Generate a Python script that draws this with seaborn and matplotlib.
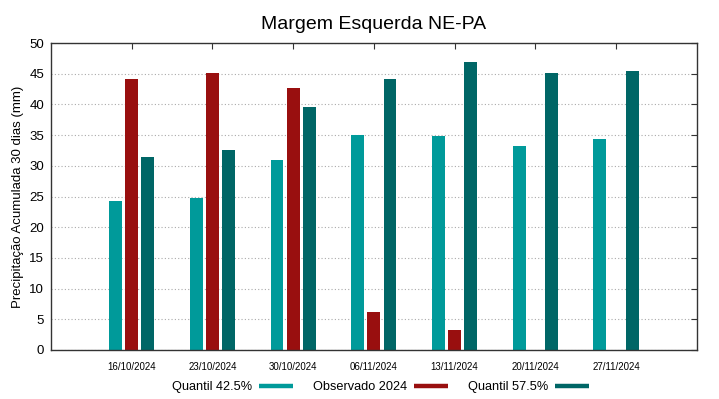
import pandas as pd
import numpy as np
import matplotlib
matplotlib.use('Agg')
import matplotlib.pyplot as plt
from matplotlib.lines import Line2D
import seaborn as sns

# dates and series
datas = ['16/10/2024', '23/10/2024', '30/10/2024', '06/11/2024',
         '13/11/2024', '20/11/2024', '27/11/2024']
quantil_425 = [24.2, 24.8, 30.9, 35.1, 34.9, 33.2, 34.4]
observado_2024 = [44.2, 45.2, 42.7, 6.1, 3.3, np.nan, np.nan]
quantil_575 = [31.4, 32.5, 39.6, 44.2, 47.0, 45.1, 45.5]

series_names = ['Quantil 42.5%', 'Observado 2024', 'Quantil 57.5%']
cores = ['#009a9a', '#990f0f', '#006666']

# long format for seaborn
df = pd.DataFrame({
    'data': datas * 3,
    'serie': [s for s in series_names for _ in datas],
    'valor': quantil_425 + observado_2024 + quantil_575,
})

sns.set_style('white')
plt.rcParams['font.family'] = ['Liberation Sans', 'DejaVu Sans']
plt.rcParams['text.color'] = 'black'
plt.rcParams['axes.labelcolor'] = 'black'
plt.rcParams['xtick.color'] = 'black'
plt.rcParams['ytick.color'] = 'black'

fig = plt.figure(figsize=(7.19, 3.99), dpi=100)
ax = fig.add_axes([0.071, 0.123, 0.898, 0.769])

sns.barplot(data=df, x='data', y='valor', hue='serie', order=datas,
            hue_order=series_names, palette=cores, width=0.6, gap=0.2,
            saturation=1, linewidth=0, legend=False, ax=ax)

ax.set_xlim(-1, 7)
ax.set_ylim(0, 50)
ax.set_yticks(range(0, 51, 5))
ax.yaxis.grid(True, linestyle=(0, (1, 2)), color='#aaaaaa', linewidth=0.8)
ax.set_axisbelow(True)

for s in ax.spines.values():
    s.set_color('#333333')
    s.set_linewidth(1)

ax.tick_params(axis='both', direction='in', top=True, right=True,
               length=4, color='#333333')
ax.tick_params(axis='x', labelsize=7, pad=9)
ax.tick_params(axis='y', labelsize=9.5, pad=5)

ax.set_xlabel('')
ax.set_ylabel('Precipitação Acumulada 30 dias (mm)', fontsize=9.5)
ax.set_title('Margem Esquerda NE-PA', fontsize=14, pad=10, color='black')

# legend below the axes, text first then sample line
handles = [Line2D([0], [0], color=c, linewidth=3.2, solid_capstyle='butt')
           for c in cores]
fig.legend(handles, series_names, loc='center', bbox_to_anchor=(0.529, 0.03),
           ncol=3, frameon=False, markerfirst=False, fontsize=9.2,
           handlelength=2.65, columnspacing=1.55, handletextpad=0.55)

fig.savefig('out.png', dpi=100)
